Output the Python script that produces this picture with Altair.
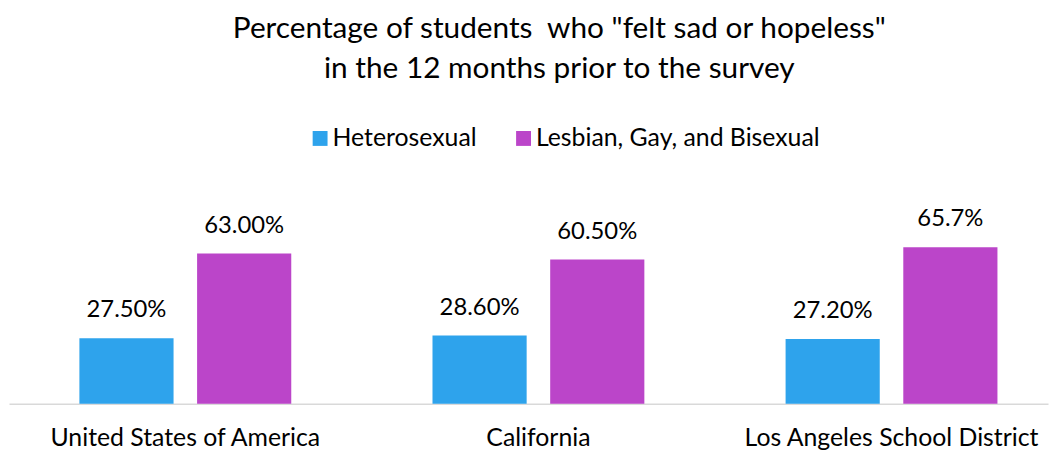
import altair as alt
import pandas as pd

regions = ["United States of America", "California", "Los Angeles School District"]
groups = ["Heterosexual", "Lesbian, Gay, and Bisexual"]
hetero = [27.5, 28.6, 27.2]
lgb = [63.0, 60.5, 65.7]
hetero_labels = ["27.50%", "28.60%", "27.20%"]
lgb_labels = ["63.00%", "60.50%", "65.7%"]
colors = ["#2EA3EC", "#BB45C9"]

rows = []
for i, r in enumerate(regions):
    rows.append({"region": r, "group": groups[0], "value": hetero[i], "label": hetero_labels[i]})
    rows.append({"region": r, "group": groups[1], "value": lgb[i], "label": lgb_labels[i]})
df = pd.DataFrame(rows)

FONT = "Lato"

x = alt.X("region:N", sort=regions, title=None,
          scale=alt.Scale(paddingInner=0.4, paddingOuter=0.1713, align=0.582),
          axis=alt.Axis(labelAngle=0, ticks=False, domainColor="#D9D9D9", domainWidth=1.5,
                        labelFontSize=25, labelFont=FONT, labelColor="#000000",
                        labelPadding=22, grid=False, labelLimit=0))
xo = alt.XOffset("group:N", sort=groups, scale=alt.Scale(paddingInner=0.2, paddingOuter=0))
y = alt.Y("value:Q", scale=alt.Scale(domain=[0, 70]), axis=None)

bars = alt.Chart(df).mark_bar().encode(
    x=x, xOffset=xo, y=y,
    color=alt.Color("group:N", sort=groups, scale=alt.Scale(domain=groups, range=colors),
                    legend=alt.Legend(title=None, orient="none", direction="horizontal",
                                      legendX=301, legendY=-112, symbolType="square",
                                      symbolSize=225, symbolStrokeWidth=0, symbolOpacity=1,
                                      labelFontSize=25, labelFont=FONT, labelColor="#000000",
                                      labelOffset=0, columnPadding=34, padding=0, labelLimit=0))
)

text = alt.Chart(df).mark_text(dy=-16, baseline="bottom", fontSize=24, font=FONT, color="#000000").encode(
    x=x, xOffset=xo, y=y, text="label:N"
)

chart = alt.layer(bars, text).properties(
    width=1047, height=168,
    title=alt.TitleParams(
        text=['Percentage of students \u00a0who "felt sad or hopeless"', "in the 12 months prior to the survey"],
        fontSize=30, font=FONT, fontWeight="normal", color="#000000", anchor="middle",
        dx=31, offset=42, lineHeight=40),
    autosize=alt.AutoSizeParams(type="none"),
    padding={"left": 1, "top": 229, "right": 2, "bottom": 48},
).configure_view(stroke=None)

chart.save("out.html", embed_options={"renderer": "svg", "actions": False})
